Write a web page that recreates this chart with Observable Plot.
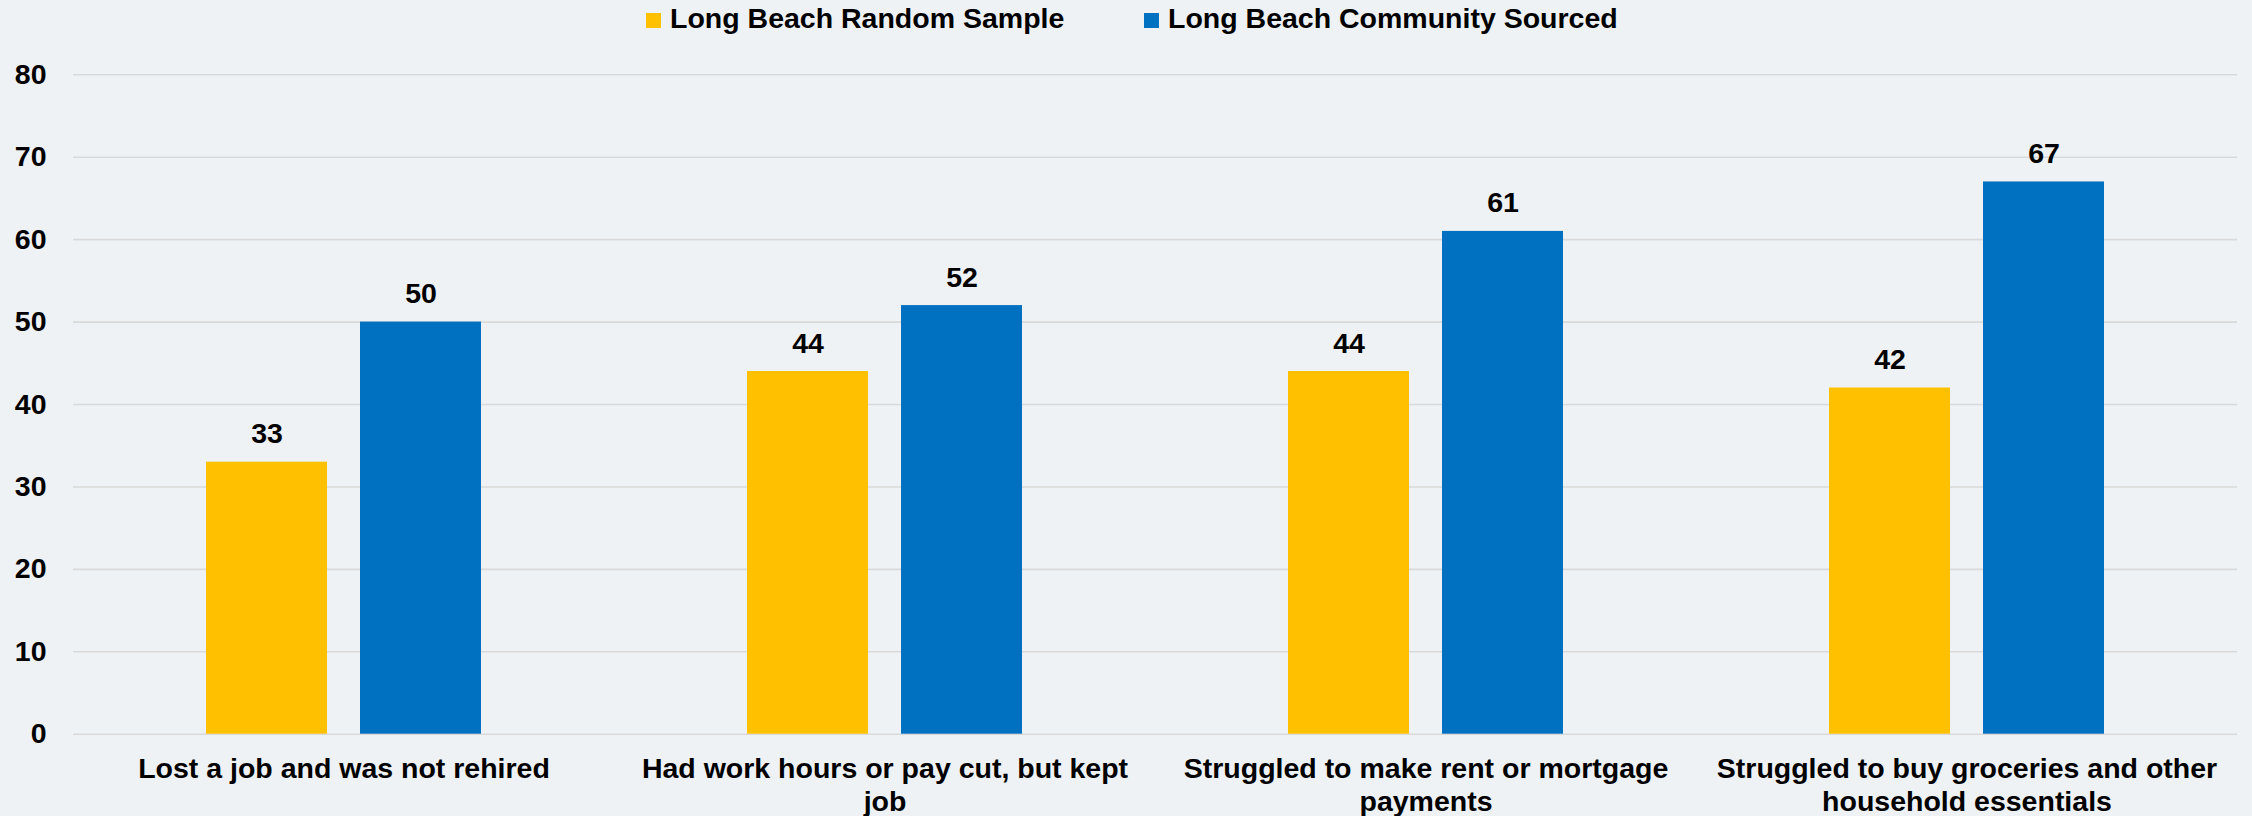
<!DOCTYPE html>
<html>
<head>
<meta charset="utf-8">
<script src="https://cdn.jsdelivr.net/npm/d3@7"></script>
<script src="https://cdn.jsdelivr.net/npm/@observablehq/plot@0.6"></script>
<style>
  html, body { margin: 0; padding: 0; background: #eef2f4; }
  body { width: 2252px; height: 816px; overflow: hidden; font-family: "Liberation Sans", Arial, sans-serif; }
  #legend { position: relative; height: 40px; font-weight: bold; font-size: 28.5px; color: #000; }
  .item { position: absolute; top: 0; height: 36px; line-height: 36px; white-space: nowrap; }
  .sw { position: absolute; top: 13px; width: 15px; height: 15px; }
  .lab { position: absolute; left: 24px; top: 0; }
  svg { display: block; }
</style>
</head>
<body>
<div id="legend"></div>
<div id="chart"></div>
<script>
const categories = [
  "Lost a job and was not rehired",
  "Had work hours or pay cut, but kept job",
  "Struggled to make rent or mortgage payments",
  "Struggled to buy groceries and other household essentials"
];
const categoryLabels = [
  "Lost a job and was not rehired",
  "Had work hours or pay cut, but kept\njob",
  "Struggled to make rent or mortgage\npayments",
  "Struggled to buy groceries and other\nhousehold essentials"
];
const series = ["Long Beach Random Sample", "Long Beach Community Sourced"];
const randomSample = [33, 44, 44, 42];
const communitySourced = [50, 52, 61, 67];
const colors = ["#FFC000", "#0070C0"];
const yTicks = [0, 10, 20, 30, 40, 50, 60, 70, 80];

const data = [];
categories.forEach((c, i) => {
  data.push({category: c, series: series[0], value: randomSample[i]});
  data.push({category: c, series: series[1], value: communitySourced[i]});
});

// Legend
const legend = document.getElementById("legend");
const legendLefts = [646, 1144];
series.forEach((s, i) => {
  const item = document.createElement("div");
  item.className = "item";
  item.style.left = legendLefts[i] + "px";
  const sw = document.createElement("div");
  sw.className = "sw";
  sw.style.background = colors[i];
  const lab = document.createElement("span");
  lab.className = "lab";
  lab.textContent = s;
  item.appendChild(sw);
  item.appendChild(lab);
  legend.appendChild(item);
});

const labelOf = new Map(categories.map((c, i) => [c, categoryLabels[i]]));

const chart = Plot.plot({
  width: 2252,
  height: 776,
  marginTop: 34.3,
  marginBottom: 82.3,
  marginLeft: 72,
  marginRight: 14,
  style: {
    background: "transparent",
    fontFamily: "'Liberation Sans', Arial, sans-serif",
    fontSize: "28.5px",
    fontWeight: "bold",
    color: "#000"
  },
  fx: {domain: categories, paddingInner: 0, paddingOuter: 0, label: null, axis: null},
  x: {domain: series, paddingInner: 0.2136, paddingOuter: 0.854, axis: null},
  y: {domain: [0, 80], label: null},
  color: {domain: series, range: colors},
  marks: [
    Plot.ruleY(yTicks, {stroke: "#d9d9d9", strokeWidth: 1.6}),
    Plot.barY(data, {fx: "category", x: "series", y: "value", fill: "series"}),
    Plot.text(data, {fx: "category", x: "series", y: "value", text: d => String(d.value),
      lineAnchor: "bottom", dy: -19, fill: "#000", fontSize: 28.5, fontWeight: "bold"}),
    Plot.axisY({ticks: yTicks, tickSize: 0, tickPadding: 27, label: null, fill: "#000"}),
    Plot.axisFx({anchor: "bottom", tickSize: 0, tickPadding: 20, label: null, lineHeight: 1.16,
      tickFormat: d => labelOf.get(d), fill: "#000"})
  ]
});
document.getElementById("chart").appendChild(chart);
</script>
</body>
</html>
